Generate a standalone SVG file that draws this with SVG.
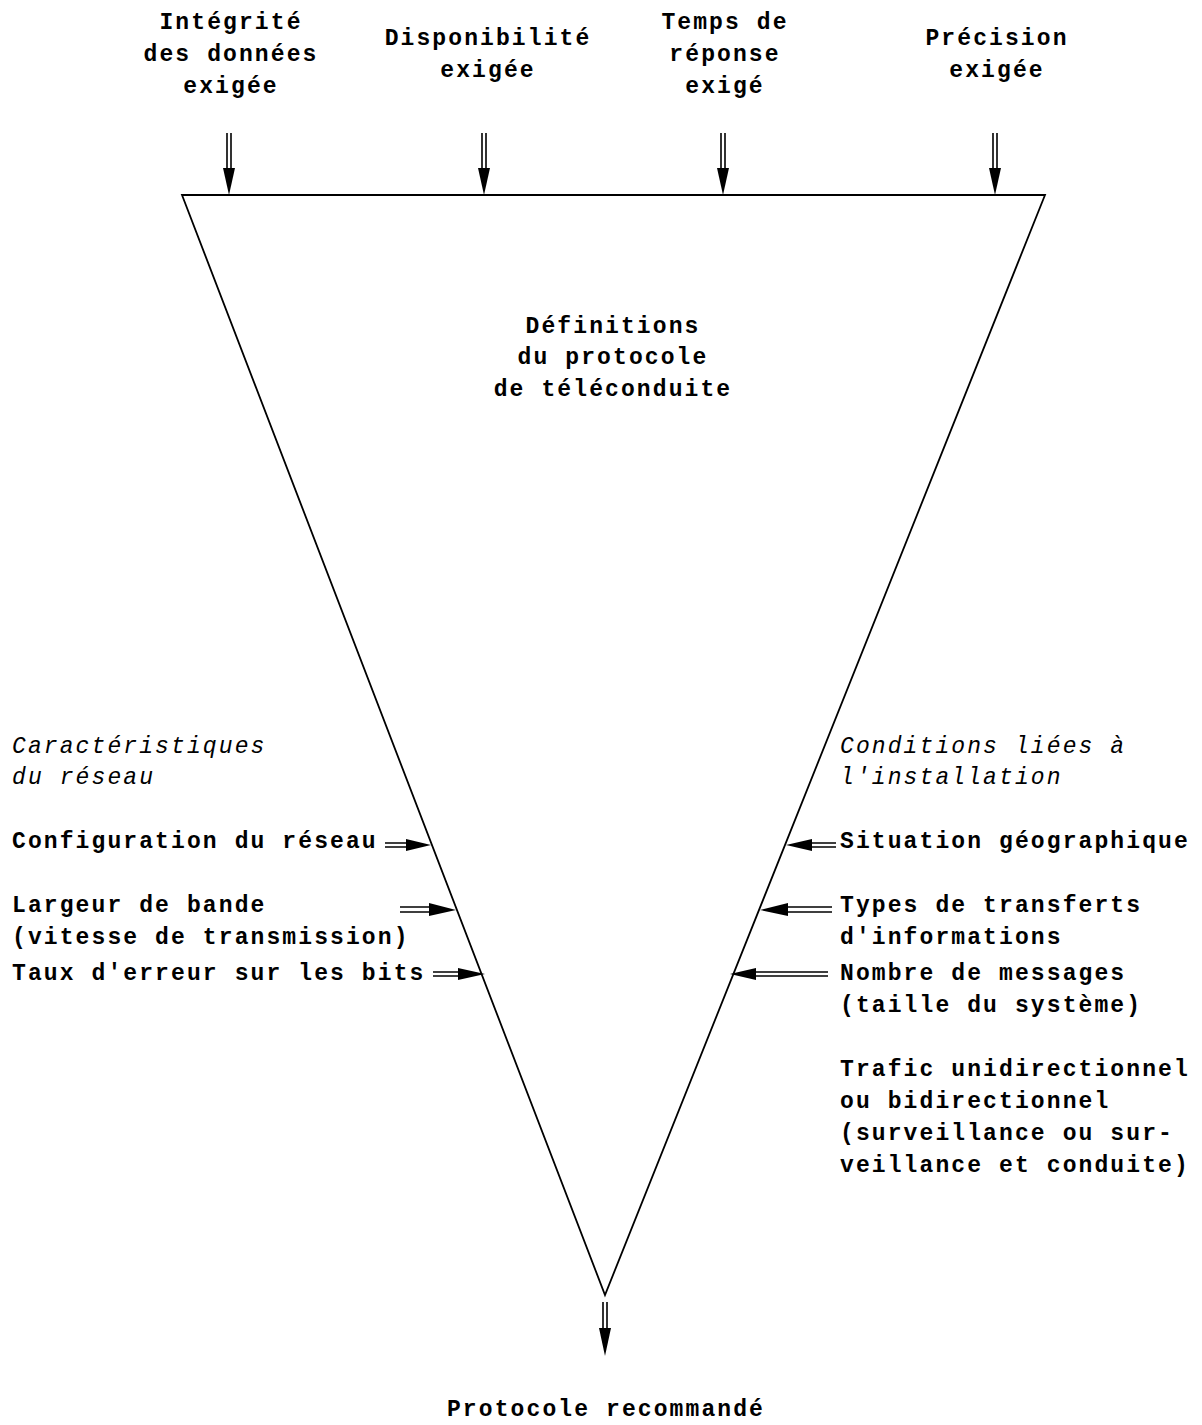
<svg xmlns="http://www.w3.org/2000/svg" width="1202" height="1425" viewBox="0 0 1202 1425">
<style>
text{font-family:"Liberation Mono","DejaVu Sans Mono",monospace;font-size:23px;font-weight:bold;letter-spacing:2.1px;fill:#000}
.c{text-anchor:middle}
.i{font-style:italic;font-weight:normal}
.sh{stroke:#000;stroke-width:1.6;fill:none}
.hd{fill:#000;stroke:none}
.edge{stroke:#000;stroke-width:1.8;fill:none}
</style>
<rect width="1202" height="1425" fill="#fff"/>
<g id="triangle">
<path class="edge" d="M182,195 L1045,195 L605,1295 Z"/>
</g>
<g id="top-labels">
<g id="n-integrite"><text class="c" x="231" y="29">Intégrité</text><text class="c" x="231" y="61">des données</text><text class="c" x="231" y="93">exigée</text></g>
<g id="n-disponibilite"><text class="c" x="488" y="45">Disponibilité</text><text class="c" x="488" y="77">exigée</text></g>
<g id="n-temps"><text class="c" x="725" y="29">Temps de</text><text class="c" x="725" y="61">réponse</text><text class="c" x="725" y="93">exigé</text></g>
<g id="n-precision"><text class="c" x="997" y="45">Précision</text><text class="c" x="997" y="77">exigée</text></g>
</g>
<g id="n-definitions"><text class="c" x="613" y="333">Définitions</text><text class="c" x="613" y="364">du protocole</text><text class="c" x="613" y="396">de téléconduite</text></g>
<g id="left-labels">
<g id="n-caracteristiques"><text class="i" x="12" y="753">Caractéristiques</text><text class="i" x="12" y="784">du réseau</text></g>
<g id="n-configuration"><text x="12" y="848">Configuration du réseau</text></g>
<g id="n-largeur"><text x="12" y="912">Largeur de bande</text><text x="12" y="944">(vitesse de transmission)</text></g>
<g id="n-taux"><text x="12" y="980">Taux d'erreur sur les bits</text></g>
</g>
<g id="right-labels">
<g id="n-conditions"><text class="i" x="840" y="753">Conditions liées à</text><text class="i" x="840" y="784">l'installation</text></g>
<g id="n-situation"><text x="840" y="848">Situation géographique</text></g>
<g id="n-types"><text x="840" y="912">Types de transferts</text><text x="840" y="944">d'informations</text></g>
<g id="n-nombre"><text x="840" y="980">Nombre de messages</text><text x="840" y="1012">(taille du système)</text></g>
<g id="n-trafic"><text x="840" y="1076">Trafic unidirectionnel</text><text x="840" y="1108">ou bidirectionnel</text><text x="840" y="1140">(surveillance ou sur-</text><text x="840" y="1172">veillance et conduite)</text></g>
</g>
<g id="n-protocole"><text class="c" x="606" y="1416">Protocole recommandé</text></g>
<g id="connectors">
<path class="sh" d="M227,133 V170 M231,133 V170"/><path class="hd" d="M223,168 L235,168 L229,195 Z"/>
<path class="sh" d="M482,133 V170 M486,133 V170"/><path class="hd" d="M478,168 L490,168 L484,195 Z"/>
<path class="sh" d="M721,133 V170 M725,133 V170"/><path class="hd" d="M717,168 L729,168 L723,195 Z"/>
<path class="sh" d="M993,133 V170 M997,133 V170"/><path class="hd" d="M989,168 L1001,168 L995,195 Z"/>
<path class="sh" d="M603,1302 V1332 M607,1302 V1332"/><path class="hd" d="M599,1328 L611,1328 L605,1356 Z"/>
<path class="sh" d="M385,843 H410 M385,847 H410"/><path class="hd" d="M406,839 L406,851 L431,845 Z"/>
<path class="sh" d="M400,907 H433 M400,912 H433"/><path class="hd" d="M429,903 L429,916 L456,910 Z"/>
<path class="sh" d="M433,972 H462 M433,976 H462"/><path class="hd" d="M458,968 L458,980 L485,974 Z"/>
<path class="sh" d="M836,843 H808 M836,847 H808"/><path class="hd" d="M812,839 L812,851 L786,845 Z"/>
<path class="sh" d="M832,907 H784 M832,912 H784"/><path class="hd" d="M788,903 L788,916 L760,910 Z"/>
<path class="sh" d="M828,972 H752 M828,976 H752"/><path class="hd" d="M756,968 L756,980 L730,974 Z"/>
</g>
</svg>
